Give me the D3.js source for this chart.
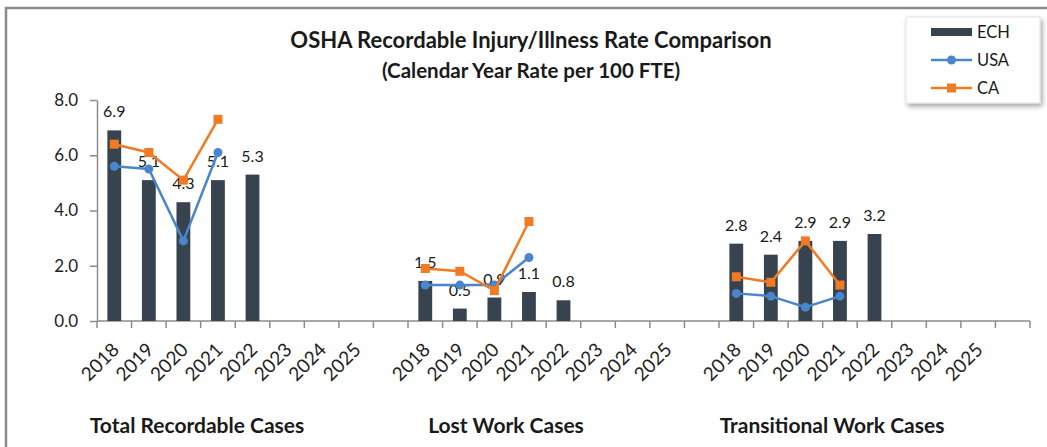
<!DOCTYPE html>
<html>
<head>
<meta charset="utf-8">
<title>OSHA Recordable Injury/Illness Rate Comparison</title>
<script src="https://d3js.org/d3.v7.min.js"></script>
<style>
  body { margin: 0; background: white; }
  text { font-family: Lato, 'DejaVu Sans', sans-serif; fill: #1a1a1a; }
  .title { font-weight: bold; }
  .group-label { font-weight: bold; font-size: 21px; }
  .axis path, .axis line { stroke: #8c8c8c; stroke-width: 1.5px; }
  .axis text { font-size: 17px; fill: #222; }
  .axis text.cat-label { font-size: 19px; }
  .data-label { font-size: 16px; }
  .legend-text { font-size: 16.5px; }
</style>
</head>
<body>
<svg id="chart"></svg>
<script>
var width = 1047, height = 447;

// chart data
var years = ["2018", "2019", "2020", "2021", "2022", "2023", "2024", "2025"];
var groups = ["Total Recordable Cases", "Lost Work Cases", "Transitional Work Cases"];
var seriesNames = ["ECH", "USA", "CA"];

// ECH bars (2018-2022)
var echTotal = [6.9, 5.1, 4.3, 5.1, 5.3];
var echLost = [1.45, 0.45, 0.85, 1.05, 0.75];
var echTransitional = [2.8, 2.4, 2.9, 2.9, 3.15];
// USA line (2018-2021)
var usaTotal = [5.6, 5.5, 2.9, 6.1];
var usaLost = [1.3, 1.3, 1.3, 2.3];
var usaTransitional = [1.0, 0.9, 0.5, 0.9];
// CA line (2018-2021)
var caTotal = [6.4, 6.1, 5.1, 7.3];
var caLost = [1.9, 1.8, 1.1, 3.6];
var caTransitional = [1.6, 1.4, 2.9, 1.3];

var yTicks = [0, 2, 4, 6, 8];

var colors = { ECH: "#37444f", USA: "#4a86cc", CA: "#f07b22" };

var ech = [echTotal, echLost, echTransitional];
var usa = [usaTotal, usaLost, usaTransitional];
var ca = [caTotal, caLost, caTransitional];

// category keys: group|year, one blank category after each group
var categories = [];
groups.forEach(function(g, gi) {
  years.forEach(function(yr) { categories.push(gi + "|" + yr); });
  categories.push("gap" + gi);
});

var svg = d3.select("#chart").attr("width", width).attr("height", height);

// outer chart border (only top and left visible in the frame)
svg.append("rect")
  .attr("x", 6).attr("y", 8)
  .attr("width", 1080).attr("height", 480)
  .attr("fill", "none").attr("stroke", "#8a8a8a").attr("stroke-width", 2.5);

var x = d3.scaleBand().domain(categories).range([97, 1030]).padding(0);
var y = d3.scaleLinear().domain([0, 8]).range([321, 100]);
var bw = x.bandwidth() * 0.4;
var cx = function(key) { return x(key) + x.bandwidth() / 2; };
var fmt = function(v) { return (Math.round(v * 10 + 1e-6) / 10).toFixed(1); };

// y axis
svg.append("g").attr("class", "axis")
  .attr("transform", "translate(97,0)")
  .call(d3.axisLeft(y).tickValues(yTicks).tickFormat(d3.format(".1f")).tickSize(7).tickSizeOuter(0).tickPadding(12));

// x axis with ticks at band boundaries
var xAxis = svg.append("g").attr("class", "axis")
  .attr("transform", "translate(0," + y(0) + ")");
xAxis.append("line")
  .attr("x1", 97).attr("x2", 1030).attr("y1", 0).attr("y2", 0);
xAxis.selectAll(".tk")
  .data(categories.concat(["end"]))
  .enter().append("line")
  .attr("x1", function(d) { return d === "end" ? 1030 : x(d); })
  .attr("x2", function(d) { return d === "end" ? 1030 : x(d); })
  .attr("y1", 0).attr("y2", 7);
xAxis.selectAll(".cat")
  .data(categories.filter(function(c) { return c.indexOf("gap") < 0; }))
  .enter().append("text")
  .attr("class", "cat-label")
  .attr("text-anchor", "end")
  .attr("transform", function(d) { return "translate(" + (cx(d) + 6) + ",30) rotate(-45)"; })
  .text(function(d) { return d.split("|")[1]; });

// bars + labels + lines per group
groups.forEach(function(g, gi) {
  var key = function(i) { return gi + "|" + years[i]; };

  svg.append("g").selectAll("rect")
    .data(ech[gi])
    .enter().append("rect")
    .attr("x", function(d, i) { return cx(key(i)) - bw / 2; })
    .attr("y", function(d) { return y(d); })
    .attr("width", bw)
    .attr("height", function(d) { return y(0) - y(d); })
    .attr("fill", colors.ECH);

  svg.append("g").selectAll("text")
    .data(ech[gi])
    .enter().append("text")
    .attr("class", "data-label")
    .attr("text-anchor", "middle")
    .attr("x", function(d, i) { return cx(key(i)); })
    .attr("y", function(d) { return y(d) - 13; })
    .text(fmt);

  [["USA", usa[gi]], ["CA", ca[gi]]].forEach(function(s) {
    var name = s[0], vals = s[1];
    var line = d3.line()
      .x(function(d, i) { return cx(key(i)); })
      .y(function(d) { return y(d); });
    svg.append("path")
      .datum(vals)
      .attr("d", line)
      .attr("fill", "none")
      .attr("stroke", colors[name])
      .attr("stroke-width", 2.5);
    var m = svg.append("g").selectAll(".m").data(vals).enter();
    if (name === "USA") {
      m.append("circle")
        .attr("cx", function(d, i) { return cx(key(i)); })
        .attr("cy", function(d) { return y(d); })
        .attr("r", 4.5)
        .attr("fill", colors.USA);
    } else {
      m.append("rect")
        .attr("x", function(d, i) { return cx(key(i)) - 4.5; })
        .attr("y", function(d) { return y(d) - 4.5; })
        .attr("width", 9).attr("height", 9)
        .attr("fill", colors.CA);
    }
  });
});

// group labels
var groupLabelX = [197, 506, 832];
svg.selectAll(".group-label")
  .data(groups)
  .enter().append("text")
  .attr("class", "group-label")
  .attr("text-anchor", "middle")
  .attr("x", function(d, i) { return groupLabelX[i]; })
  .attr("y", 433)
  .text(function(d) { return d; });

// title
svg.append("text").attr("class", "title").attr("text-anchor", "middle")
  .attr("x", 531).attr("y", 48).style("font-size", "22px")
  .text("OSHA Recordable Injury/Illness Rate Comparison");
svg.append("text").attr("class", "title").attr("text-anchor", "middle")
  .attr("x", 531).attr("y", 78).style("font-size", "20.5px")
  .text("(Calendar Year Rate per 100 FTE)");

// legend
var defs = svg.append("defs");
var filter = defs.append("filter").attr("id", "shadow")
  .attr("x", "-10%").attr("y", "-10%").attr("width", "130%").attr("height", "140%");
filter.append("feDropShadow")
  .attr("dx", 2).attr("dy", 3).attr("stdDeviation", 2.5)
  .attr("flood-color", "#000").attr("flood-opacity", 0.35);

var legend = svg.append("g").attr("transform", "translate(906,17)");
legend.append("rect")
  .attr("width", 134).attr("height", 86)
  .attr("fill", "white").attr("stroke", "#e2e2e2")
  .attr("filter", "url(#shadow)");

var ly = d3.scalePoint().domain(seriesNames).range([15, 71]);
seriesNames.forEach(function(name) {
  var g = legend.append("g").attr("transform", "translate(0," + ly(name) + ")");
  if (name === "ECH") {
    g.append("rect").attr("x", 25).attr("y", -4).attr("width", 41).attr("height", 8)
      .attr("fill", colors.ECH);
  } else {
    g.append("line").attr("x1", 25).attr("x2", 66).attr("y1", 0).attr("y2", 0)
      .attr("stroke", colors[name]).attr("stroke-width", 2.5);
    if (name === "USA") {
      g.append("circle").attr("cx", 45.5).attr("cy", 0).attr("r", 4.5).attr("fill", colors.USA);
    } else {
      g.append("rect").attr("x", 41).attr("y", -4.5).attr("width", 9).attr("height", 9).attr("fill", colors.CA);
    }
  }
  g.append("text").attr("class", "legend-text")
    .attr("x", 71).attr("y", 6)
    .text(name);
});
</script>
</body>
</html>
